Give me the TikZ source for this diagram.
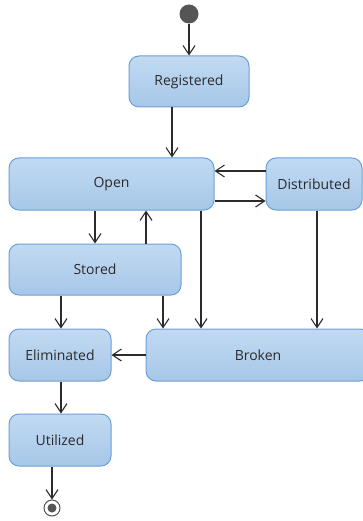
\documentclass[tikz,border=0pt]{standalone}
\usepackage{fontspec}
\setmainfont{Open Sans}
\usetikzlibrary{arrows.meta}
\definecolor{stTop}{HTML}{C2DAF2}
\definecolor{stBot}{HTML}{A6C7E8}
\definecolor{stLine}{HTML}{6C9FD6}
\definecolor{ink}{HTML}{2B2B2B}
\definecolor{dotgrey}{HTML}{555555}
\begin{document}
\begin{tikzpicture}[x=1pt,y=-1pt,
  state/.style={draw=stLine, line width=1pt, rounded corners=10pt,
    top color=stTop, bottom color=stBot, text=ink,
    font=\fontsize{14}{16}\selectfont, inner sep=0pt, minimum height=52pt},
  arr/.style={draw=ink, line width=1.1pt,
    -{Straight Barb[length=9pt,width=12pt,line width=1.1pt]}}]
\useasboundingbox (0,0) rectangle (362,521);

% states
\node[circle, fill=dotgrey, minimum size=19pt, inner sep=0pt] (init) at (189,14) {};
\node[state, minimum width=120pt, minimum height=51pt] (reg) at (189,81.5) {Registered};
\node[state, minimum width=205pt] (open) at (111.5,184) {Open};
\node[state, minimum width=96pt] (dist) at (314,184) {Distributed};
\node[state, minimum width=172pt, minimum height=51pt] (stored) at (95,269.5) {Stored};
\node[state, minimum width=102pt] (elim) at (60,355) {Eliminated};
\node[state, minimum width=224pt] (broken) at (258,355) {Broken};
\node[state, minimum width=102pt] (util) at (60,440) {Utilized};
\node[circle, draw=dotgrey, line width=1pt, fill=white, minimum size=16pt, inner sep=0pt] (final) at (52,508) {};
\fill[dotgrey] (final.center) circle (4.5pt);

% transitions
\draw[arr] (init) -- (reg);
\draw[arr] ([xshift=-17pt]reg.south) -- ([xshift=-17pt]reg.south |- open.north);
\draw[arr] ([yshift=13pt]dist.west) -- ([yshift=13pt]dist.west -| open.east);
\draw[arr] ([yshift=-17pt]open.east) -- ([yshift=-17pt]open.east -| dist.west);
\draw[arr] (stored.north |- open.south) -- (stored.north);
\draw[arr] ([xshift=51pt]stored.north) -- ([xshift=51pt]stored.north |- open.south);
\draw[arr] ([xshift=89.5pt]open.south) -- ([xshift=89.5pt]open.south |- broken.north);
\draw[arr] ([xshift=3pt]dist.south) -- ([xshift=3pt]dist.south |- broken.north);
\draw[arr] ([xshift=1pt]elim.north |- stored.south) -- ([xshift=1pt]elim.north);
\draw[arr] ([xshift=68pt]stored.south) -- ([xshift=68pt]stored.south |- broken.north);
\draw[arr] (broken.west) -- (elim.east);
\draw[arr] ([xshift=1pt]elim.south) -- ([xshift=1pt]util.north);
\draw[arr] (final |- util.south) -- (final.north);
\end{tikzpicture}
\end{document}
